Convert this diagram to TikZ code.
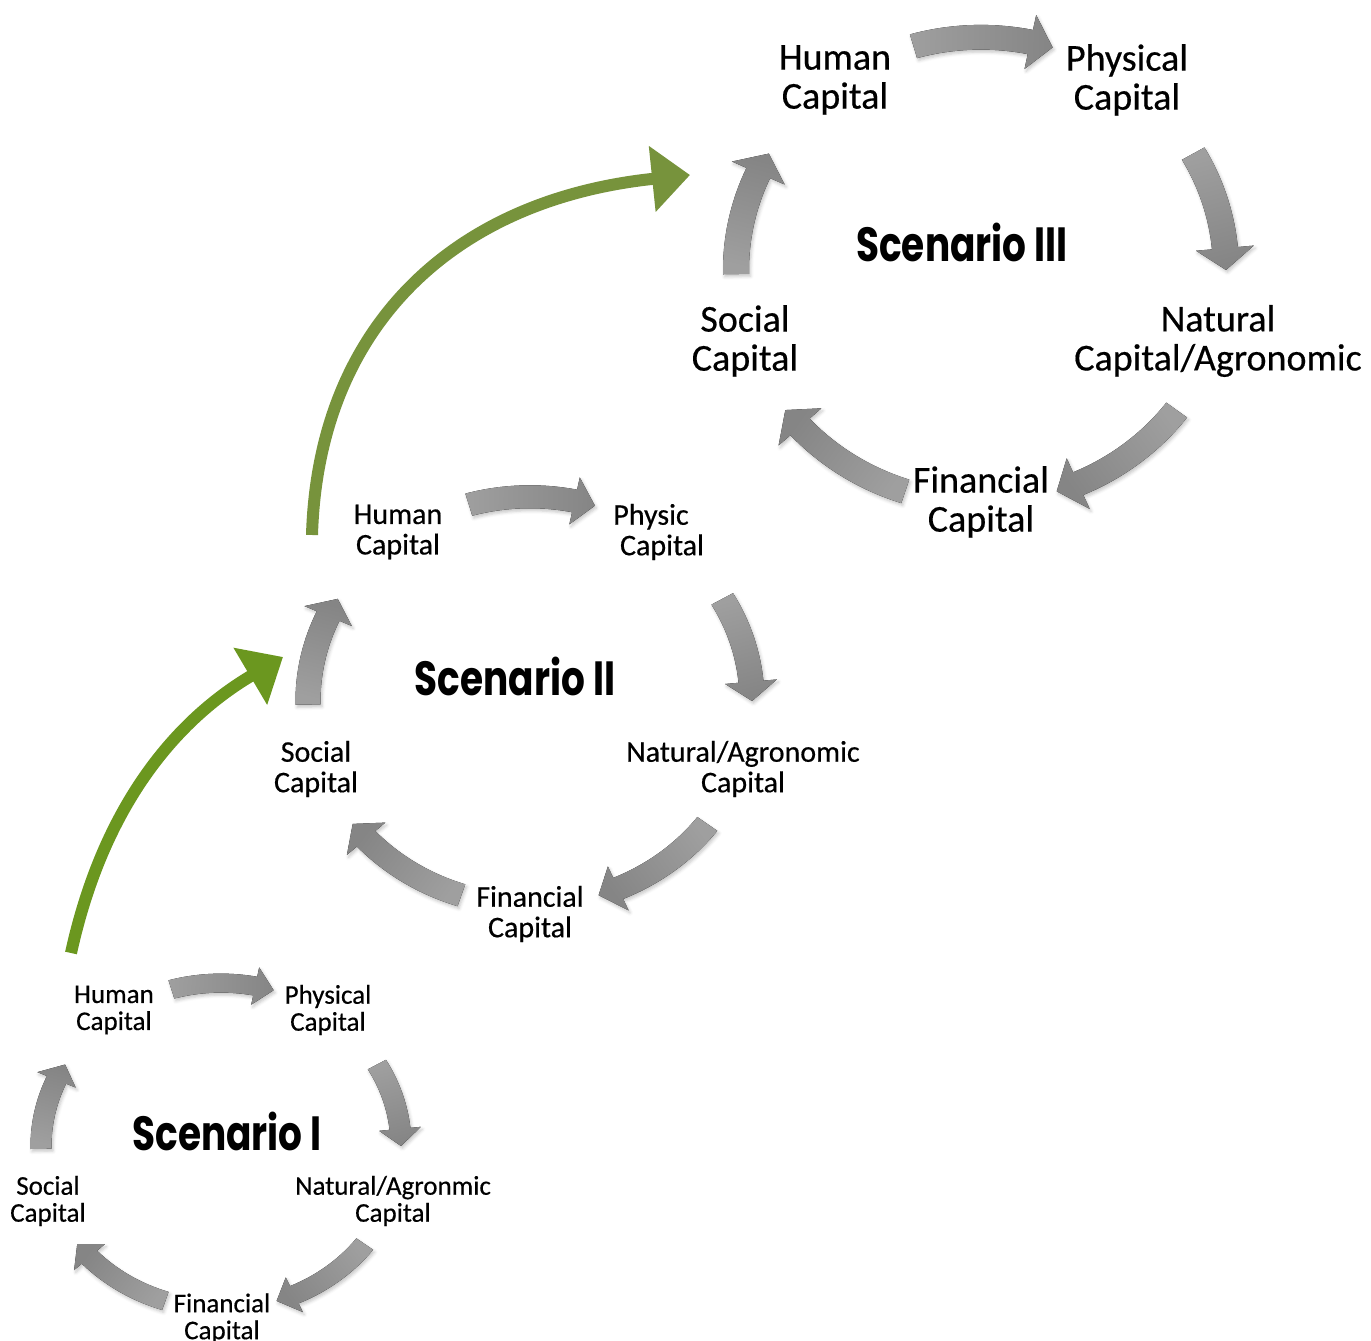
\documentclass[tikz,border=0pt]{standalone}
\usepackage{fontspec}
\setmainfont{Carlito}[FakeBold=0.5]
\newfontfamily\labelfont{Carlito}[FakeBold=0.45]
\newfontfamily\titlefont[FakeStretch=0.78]{Poppins}
\usetikzlibrary{arrows.meta,shadows.blur}

\definecolor{arrowlight}{HTML}{9F9F9F}
\definecolor{arrowdark}{HTML}{858585}
\definecolor{greenlow}{HTML}{6B971F}
\definecolor{greenhigh}{HTML}{77933C}

\tikzset{
  cyclearrow/.style={top color=arrowlight, bottom color=arrowdark, draw=none,
    blur shadow={shadow xshift=1.5pt, shadow yshift=-2.5pt, shadow opacity=22, shadow blur radius=3pt}},
  capthree/.style={align=center, font=\labelfont\fontsize{38}{39}\selectfont, text=black, inner sep=0pt},
  captwo/.style={align=center, font=\labelfont\fontsize{30}{30.5}\selectfont, text=black, inner sep=0pt},
  capone/.style={align=center, font=\labelfont\fontsize{27}{27}\selectfont, text=black, inner sep=0pt},
  scentitle/.style={font=\titlefont\bfseries\fontsize{48}{50}\selectfont, text=black, inner sep=0pt},
  growth/.style={line width=12pt, -{Triangle[length=38pt,width=64pt]}},
}

% curved block arrow along a circle, running clockwise
% #1 tail angle, #2 tip angle, #3 radius, #4 shaft half width, #5 head half width, #6 head length
\newcommand\capArrow[6]{%
  \pgfmathsetmacro\ah{#2+deg(#6/#3)}%
  \pgfmathsetmacro\rout{#3+#4}%
  \pgfmathsetmacro\rin{#3-#4}%
  \pgfmathsetmacro\hout{#3+#5}%
  \pgfmathsetmacro\hin{#3-#5}%
  \pgfmathsetmacro\shang{(#1+#2)/2}%
  \fill[cyclearrow, shading angle=\shang]
    (#1:\rout) arc[start angle=#1, end angle=\ah, radius=\rout]
    -- (\ah:\hout) -- (#2:#3) -- (\ah:\hin) -- (\ah:\rin)
    arc[start angle=\ah, end angle=#1, radius=\rin] -- cycle;
}
% the five arrows of one cycle
\newcommand\capCycle[4]{%
  \capArrow{106}{73}{#1}{#2}{#3}{#4}
  \capArrow{30}{0}{#1}{#2}{#3}{#4}
  \capArrow{-37}{-72}{#1}{#2}{#3}{#4}
  \capArrow{-108}{-143}{#1}{#2}{#3}{#4}
  \capArrow{181}{150}{#1}{#2}{#3}{#4}
}

\begin{document}
\begin{tikzpicture}[x=1pt,y=1pt]
\useasboundingbox (0,0) rectangle (1371,1341);

% ---- Scenario III ----
\begin{scope}[shift={(981,1071)}, yscale=0.95]
  \capCycle{245}{13}{29}{23}
\end{scope}
\node[capthree] (h3) at (835,1261) {Human\\Capital};
\node[capthree] (p3) at (1127,1261) {Physical\\Capital};
\node[capthree] (n3) at (1218,1000) {Natural\\Capital/Agronomic};
\node[capthree] (f3) at (981,839) {Financial\\Capital};
\node[capthree] (s3) at (745,1000) {Social\\Capital};
\node[scentitle] (t3) at (962,1099) {Scenario III};

% ---- Scenario II ----
\begin{scope}[shift={(530,640)}, yscale=0.92]
  \capCycle{222}{12.5}{26}{21}
\end{scope}
\node[captwo] (h2) at (398,809) {Human\\Capital};
\node[captwo] (p2) at (662,809) {Physic\hspace*{22pt}\\Capital};
\node[captwo] (n2) at (743,572) {Natural/Agronomic\\Capital};
\node[captwo] (f2) at (530,427) {Financial\\Capital};
\node[captwo] (s2) at (316,572) {Social\\Capital};
\node[scentitle] (t2) at (515,665) {Scenario II};

% ---- Scenario I ----
\begin{scope}[shift={(221,195)}, yscale=0.905]
  \capCycle{180}{10.5}{21}{19}
\end{scope}
\node[capone] (h1) at (114,331) {Human\\Capital};
\node[capone] (p1) at (328,331) {Physical\\Capital};
\node[capone] (n1) at (393,140) {Natural/Agronmic\\Capital};
\node[capone] (f1) at (222,22.5) {Financial\\Capital};
\node[capone] (s1) at (48,140) {Social\\Capital};
\node[scentitle] (t1) at (227,210) {Scenario I};

% ---- growth arrows between scenarios ----
\coordinate (g1s) at (71,388);
\coordinate (g1e) at (283,684);
\coordinate (g2s) at (312,806);
\coordinate (g2e) at (690,1166);
\draw[growth, greenlow] (g1s) .. controls (104,538) and (178,622) .. (g1e);
\draw[growth, greenhigh] (g2s) .. controls (318,1011) and (450,1141) .. (g2e);
\end{tikzpicture}
\end{document}
